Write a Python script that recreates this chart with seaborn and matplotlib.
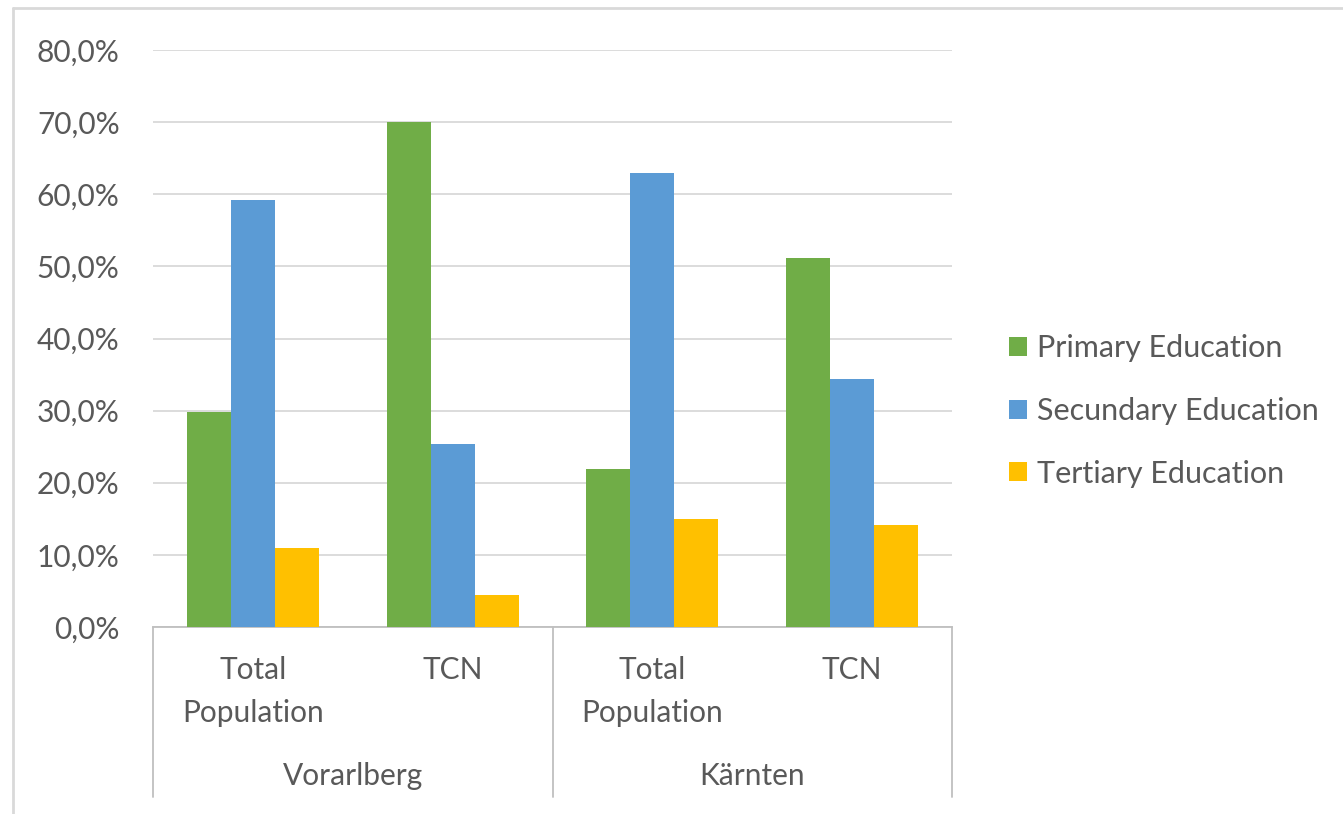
import matplotlib
matplotlib.use("Agg")
import matplotlib.pyplot as plt
from matplotlib.lines import Line2D
from matplotlib.ticker import FuncFormatter, MultipleLocator
import pandas as pd
import seaborn as sns

# chart values (percent)
regions = ["Vorarlberg", "Vorarlberg", "Kärnten", "Kärnten"]
groups = ["Total Population", "TCN", "Total Population", "TCN"]
group_labels = ["Total\nPopulation", "TCN", "Total\nPopulation", "TCN"]
primary = [29.8, 70.0, 21.9, 51.2]
secondary = [59.2, 25.4, 62.9, 34.4]
tertiary = [10.9, 4.5, 15.0, 14.2]
series = ["Primary Education", "Secundary Education", "Tertiary Education"]
colors = ["#70AD47", "#5B9BD5", "#FFC000"]

rows = []
for i in range(len(regions)):
    cat = regions[i] + " | " + groups[i]
    for name, vals in zip(series, [primary, secondary, tertiary]):
        rows.append({"cat": cat, "level": name, "value": vals[i]})
df = pd.DataFrame(rows)
order = [r + " | " + g for r, g in zip(regions, groups)]

sns.set_style("white")
plt.rcParams["font.family"] = ["Lato", "DejaVu Sans"]
text_col = "#595959"
fs = 21.5

fig = plt.figure(figsize=(13.43, 8.14), dpi=100)
ax = fig.add_axes([153 / 1343, 1 - 627 / 814, (952 - 153) / 1343, (627 - 50) / 814])

sns.barplot(data=df, x="cat", y="value", hue="level", order=order,
            hue_order=series, palette=colors, width=0.66, linewidth=0,
            saturation=1, ax=ax, zorder=3)

ax.set_ylim(0, 80)
ax.set_xlim(-0.5, len(order) - 0.5)
ax.yaxis.set_major_locator(MultipleLocator(10))
ax.yaxis.set_major_formatter(FuncFormatter(lambda v, p: f"{v:.1f}%".replace(".", ",")))
ax.tick_params(axis="y", length=0, pad=24, labelsize=fs, labelcolor=text_col)
ax.set_xticks([])
ax.set_xlabel("")
ax.set_ylabel("")
ax.grid(axis="y", color="#D9D9D9", linewidth=1.3, zorder=0)
for side in ["top", "right", "left"]:
    ax.spines[side].set_visible(False)
ax.spines["bottom"].set_color("#BFBFBF")
ax.spines["bottom"].set_linewidth(1.3)

# multi-level category axis
tr = ax.get_xaxis_transform()
for xs in [-0.5, 1.5, 3.5]:
    ax.plot([xs, xs], [0, -0.295], transform=tr, color="#BFBFBF",
            linewidth=1.3, clip_on=False)
for i, lab in enumerate(group_labels):
    ypos = -0.111 if "\n" in lab else -0.0745
    ax.text(i, ypos, lab, transform=tr, ha="center", va="center",
            fontsize=fs, color=text_col, linespacing=1.65)
for j, reg in enumerate(["Vorarlberg", "Kärnten"]):
    ax.text(2 * j + 0.5, -0.258, reg, transform=tr, ha="center", va="center",
            fontsize=fs, color=text_col)

handles, labels = ax.get_legend_handles_labels()
ax.legend(handles, labels, loc="center left", bbox_to_anchor=(1009 / 1343, 1 - 411 / 814),
          bbox_transform=fig.transFigure, frameon=False, fontsize=22,
          labelcolor=text_col, handlelength=0.6, handleheight=0.6,
          handletextpad=0.32, labelspacing=1.13, borderpad=0, borderaxespad=0)

# chart area border (top and left edges visible)
fig.add_artist(Line2D([13 / 1343, 1], [1 - 8 / 814, 1 - 8 / 814], color="#D9D9D9", linewidth=2))
fig.add_artist(Line2D([13 / 1343, 13 / 1343], [0, 1 - 8 / 814], color="#D9D9D9", linewidth=2))

fig.savefig("out.png", dpi=100)
